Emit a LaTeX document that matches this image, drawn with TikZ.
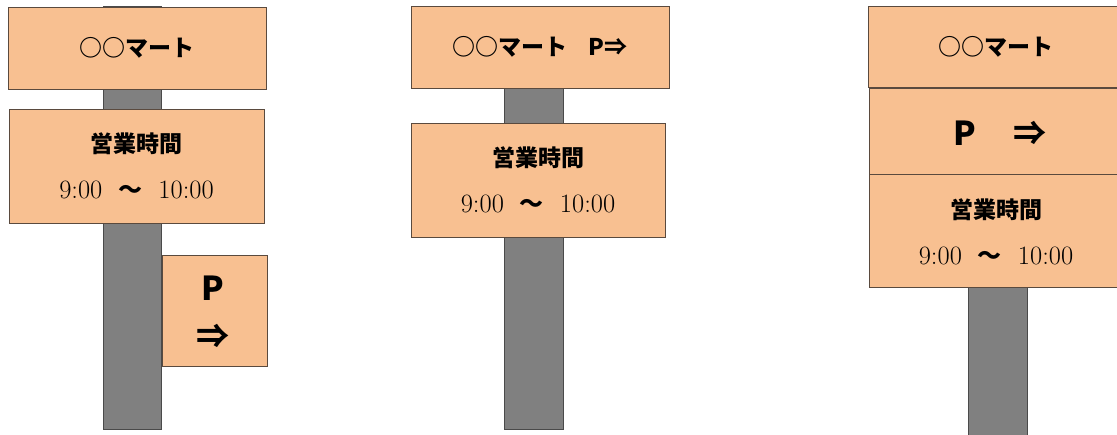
\documentclass[tikz,border=0pt]{standalone}
\usepackage{fontspec}
\newfontfamily\jp{Noto Sans CJK JP}
\definecolor{signfill}{HTML}{F8C091}
\definecolor{signedge}{HTML}{5A4A3E}
\definecolor{polefill}{HTML}{808080}
\definecolor{poleedge}{HTML}{4A4A4A}
\tikzset{
  signbox/.style={rectangle, draw=signedge, fill=signfill, line width=0.9pt, inner sep=0pt, outer sep=0pt},
  pole/.style={rectangle, draw=poleedge, fill=polefill, line width=0.9pt, inner sep=0pt, outer sep=0pt},
  jptext/.style={inner sep=0pt, font=\jp\bfseries\fontsize{23}{27}\selectfont},
  bigtext/.style={inner sep=0pt, font=\jp\bfseries\fontsize{33}{38}\selectfont},
  timetext/.style={inner sep=0pt, font=\fontsize{26.5}{30}\selectfont},
  tilde/.style={inner sep=0pt, font=\jp\fontsize{24}{28}\selectfont},
}
\begin{document}
\begin{tikzpicture}[x=1pt,y=-1pt]
\useasboundingbox (0,0) rectangle (1117,434);
% ---------- left sign ----------
\node[pole, minimum width=58pt, minimum height=423pt] (poleL) at (132,217.5) {};
\node[signbox, minimum width=258pt, minimum height=82pt] (L1) at (137,48) {};
\node[signbox, minimum width=255pt, minimum height=114pt] (L2) at (136.5,166) {};
\node[signbox, minimum width=105pt, minimum height=111pt] (L3) at (214.5,310.5) {};
\node[jptext] (L1t) at (137,48) {○○マート};
\node[jptext] (L2t) at (136.5,144) {営業時間};
\node[timetext] (L2u) at (136.5,190) {9:00\ \ {\jp\bfseries\fontsize{24}{28}\selectfont ～}\ \ 10:00};
\node[bigtext] (L3a) at (213,288) {P};
\node[bigtext] (L3b) at (213,336) {⇒};
% ---------- middle sign ----------
\node[pole, minimum width=59pt, minimum height=341pt] (poleM) at (533.5,258.5) {};
\node[signbox, minimum width=258pt, minimum height=82pt] (M1) at (540,47) {};
\node[signbox, minimum width=254pt, minimum height=114pt] (M2) at (538,180) {};
\node[jptext] (M1t) at (540,47) {○○マート\hspace{0.9em}P⇒};
\node[jptext] (M2t) at (538,158) {営業時間};
\node[timetext] (M2u) at (538,204) {9:00\ \ {\jp\bfseries\fontsize{24}{28}\selectfont ～}\ \ 10:00};
% ---------- right sign ----------
\node[pole, minimum width=59pt, minimum height=160pt] (poleR) at (997.5,367) {};
\node[signbox, minimum width=258pt, minimum height=81pt] (R1) at (997,46.5) {};
\node[signbox, minimum width=256pt, minimum height=86pt] (R2) at (997,131) {};
\node[signbox, minimum width=256pt, minimum height=113pt] (R3) at (997,230.5) {};
\node[jptext] (R1t) at (996,47) {○○マート};
\node[bigtext] (R2t) at (1000,133) {P\hspace{38pt}⇒};
\node[jptext] (R3t) at (996,210) {営業時間};
\node[timetext] (R3u) at (996,256) {9:00\ \ {\jp\bfseries\fontsize{24}{28}\selectfont ～}\ \ 10:00};
\end{tikzpicture}
\end{document}
